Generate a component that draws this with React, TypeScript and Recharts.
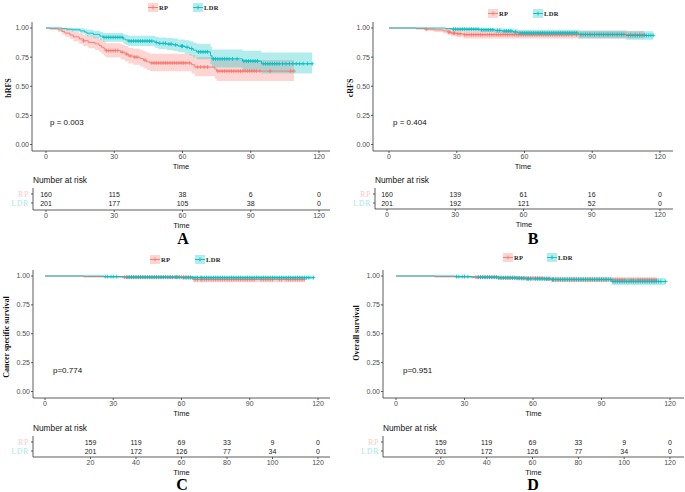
import React from 'react'
import { ComposedChart, Line, Area, Scatter, XAxis, YAxis } from 'recharts'

// [time, survival, lower CI, upper CI]
type Step = [number, number, number, number]

const RP_COLOR = '#F8766D'
const LDR_COLOR = '#00BFC4'
const SANS = '"Liberation Sans", Arial, sans-serif'
const SERIF = '"Liberation Serif", "Times New Roman", serif'

const kmTicks = [0, 30, 60, 90, 120]
const yTicks = [0, 0.25, 0.5, 0.75, 1]

// ---- A: bRFS ----
const aRp: Step[] = [
  [0, 1, 1, 1], [1.8, 0.994, 0.98, 1], [5.4, 0.984, 0.965, 1], [7, 0.97, 0.945, 0.995],
  [8.3, 0.956, 0.925, 0.987], [10.5, 0.94, 0.905, 0.977], [12, 0.924, 0.884, 0.966],
  [14.6, 0.906, 0.862, 0.952], [16.4, 0.89, 0.843, 0.94], [18.6, 0.876, 0.826, 0.929],
  [21.5, 0.864, 0.812, 0.92], [23.3, 0.85, 0.796, 0.908], [24.4, 0.835, 0.779, 0.895],
  [25.5, 0.82, 0.762, 0.882], [26.4, 0.806, 0.746, 0.87], [32.8, 0.792, 0.73, 0.858],
  [34.7, 0.776, 0.712, 0.845], [36.2, 0.76, 0.695, 0.831], [38.4, 0.75, 0.684, 0.822],
  [41.3, 0.738, 0.67, 0.812], [42.8, 0.724, 0.655, 0.8], [44.2, 0.71, 0.64, 0.788],
  [45.7, 0.7, 0.628, 0.78], [64, 0.685, 0.61, 0.768], [65.4, 0.665, 0.585, 0.752],
  [74.2, 0.648, 0.565, 0.74], [75, 0.63, 0.545, 0.725],
]
const aLdr: Step[] = [
  [0, 1, 1, 1], [7, 0.995, 0.985, 1], [9, 0.99, 0.976, 1], [11.3, 0.985, 0.968, 1],
  [15, 0.975, 0.953, 0.997], [17, 0.965, 0.94, 0.99], [18, 0.955, 0.927, 0.984],
  [20.8, 0.945, 0.914, 0.977], [23.7, 0.93, 0.895, 0.966], [25.2, 0.92, 0.883, 0.958],
  [34, 0.905, 0.865, 0.947], [35, 0.897, 0.855, 0.94], [36.2, 0.888, 0.845, 0.933],
  [47.9, 0.876, 0.83, 0.924], [49.3, 0.868, 0.82, 0.918], [53, 0.862, 0.812, 0.914],
  [56, 0.855, 0.803, 0.909], [58, 0.845, 0.791, 0.902], [61, 0.835, 0.779, 0.895],
  [63, 0.823, 0.764, 0.886], [64.7, 0.81, 0.749, 0.876], [66.2, 0.795, 0.731, 0.865],
  [72.3, 0.762, 0.69, 0.84], [73, 0.735, 0.66, 0.815], [86.4, 0.716, 0.635, 0.805],
  [94.7, 0.693, 0.61, 0.79],
]
const aRpCensor = [16.5, 26.5, 27.5, 28.5, 29.5, 30.5, 31.5, 33.5, 35.5, 37, 39, 40, 43.5, 46.5, 47.5, 48.5, 49.5, 50.5, 51.5, 52.5, 53.5, 54.5, 55.5, 56.5, 57.5, 58.5, 59.5, 60.5, 61.5, 63, 66.5, 68, 69.5, 71, 75.5, 76.5, 77.5, 78.5, 79.5, 80.5, 81.5, 82.5, 83.5, 84.5, 85.5, 86.5, 87.5, 88.5, 89.5, 90.5, 91.5, 92.5, 94, 98.5, 107.5, 109]
const aLdrCensor = [25.5, 26.5, 27.5, 28.5, 29.5, 30.5, 31.5, 32.5, 33.5, 36.5, 37.5, 38.5, 39.5, 40.5, 41.5, 42.5, 43.5, 44.5, 45.5, 46.5, 48.5, 50, 51.5, 52.5, 54, 55, 57, 59.5, 60, 62, 64, 67, 68, 69, 70, 71, 73.5, 74.5, 75.5, 76.5, 77.5, 78.5, 79.5, 80.5, 82, 84, 87, 88, 89, 90, 91, 92, 93, 95.5, 96.5, 97.5, 98.5, 99.5, 100.5, 101.5, 102.5, 104, 105.5, 107, 108.5, 110, 111.5, 113, 115, 117]

// ---- B: cRFS ----
const bRp: Step[] = [
  [0, 1, 1, 1], [12, 0.995, 0.985, 1], [16, 0.99, 0.975, 1], [20, 0.984, 0.966, 1],
  [24, 0.975, 0.953, 0.997], [26, 0.965, 0.94, 0.99], [27.5, 0.956, 0.929, 0.984],
  [30, 0.95, 0.92, 0.98], [33, 0.943, 0.91, 0.976],
]
const bLdr: Step[] = [
  [0, 1, 1, 1], [25, 0.995, 0.985, 1], [28, 0.99, 0.976, 1], [40, 0.985, 0.968, 1],
  [47, 0.979, 0.96, 0.998], [50, 0.974, 0.953, 0.995], [55, 0.966, 0.942, 0.99],
  [57, 0.957, 0.93, 0.985], [84, 0.945, 0.91, 0.978], [105, 0.936, 0.9, 0.973],
]
const bRpCensor = [16.5, 26.5, 27, 28.5, 29, 30.5, 31.5, 33.5, 34.5, 35.5, 36.5, 37.5, 38.5, 39.5, 40.5, 41.5, 42.5, 43.5, 44.5, 45.5, 46.5, 47.5, 48.5, 49.5, 50.5, 51.5, 52.5, 53.5, 54.5, 55.5, 56.5, 57.5, 58.5, 59.5, 60.5, 61.5, 62.5, 63.5, 64.5, 65.5, 66.5, 67.5, 68.5, 69.5, 70.5, 71.5, 72.5, 73.5, 74.5, 75.5, 76.5, 77.5, 78.5, 79.5, 81, 83, 85, 87, 89, 91, 93, 95, 97, 99, 101, 103, 105, 107, 109, 111, 113]
const bLdrCensor = [28.5, 29.5, 30.5, 31.5, 32.5, 33.5, 34.5, 35.5, 36.5, 37.5, 38.5, 39.5, 41, 42, 43, 44, 45, 46, 48, 49, 51, 52, 53, 54, 56, 58, 59, 60, 61, 62, 63, 64, 65, 66, 67, 68, 69, 70, 71, 72, 73, 74, 75, 76, 77, 78, 79, 80, 81, 82, 83, 85, 86, 87, 88, 89, 90, 91, 92, 93, 94, 95, 96, 97, 98, 99, 100, 101, 102, 103, 104, 106, 107, 108, 109, 110, 111, 112, 113, 114, 115, 116, 117]

// ---- C: cancer specific survival ----
const cRp: Step[] = [
  [0, 1, 1, 1], [17, 0.995, 0.985, 1], [34, 0.99, 0.977, 1], [65, 0.969, 0.945, 0.993],
]
const cLdr: Step[] = [
  [0, 1, 1, 1], [26, 0.995, 0.985, 1], [35, 0.99, 0.978, 1], [60, 0.986, 0.972, 1],
]

// ---- D: overall survival ----
const dRp: Step[] = [
  [0, 1, 1, 1], [17, 0.995, 0.985, 1], [35, 0.99, 0.977, 1], [45, 0.985, 0.97, 1],
  [55, 0.98, 0.963, 0.997], [65, 0.975, 0.955, 0.995], [68, 0.969, 0.945, 0.993],
  [95, 0.965, 0.938, 0.992],
]
const dLdr: Step[] = [
  [0, 1, 1, 1], [26, 0.995, 0.985, 1], [33, 0.99, 0.978, 1], [45, 0.985, 0.972, 0.998],
  [53, 0.98, 0.965, 0.995], [57, 0.976, 0.96, 0.992], [68, 0.97, 0.952, 0.988],
  [94.5, 0.952, 0.922, 0.982],
]
const cdRpCensor = [35, 36, 37, 38, 39, 40, 41, 42, 43, 44, 45, 46, 47, 48, 49, 50, 51, 52, 53, 54, 55, 56, 57, 58, 59, 60, 61, 62, 63, 64, 66, 67, 68.5, 69, 70, 71, 72, 73, 74, 75, 76, 77, 78, 79, 80, 81, 82, 83, 84, 85, 86, 87, 88, 89, 90, 91, 92, 95, 96, 97, 98, 99, 100, 103, 104, 106, 107, 108, 109, 110, 111, 112, 113, 114]
const cdLdrCensor = [26.5, 27.5, 29, 30, 31.5, 36, 37, 38, 39, 40, 41, 42, 43, 44, 45, 46, 47, 48, 49, 50, 51, 52, 53, 54, 55, 56, 57.5, 58, 59, 61, 62, 63, 64, 65, 66, 67, 68.5, 69, 70, 71, 72, 73, 74, 75, 76, 77, 78, 79, 80, 81, 82, 83, 84, 85, 86, 87, 88, 89, 90, 91, 92, 93, 94, 95, 96, 97, 98, 99, 100, 101, 102, 103, 104, 105, 106, 107, 108, 109, 110, 111, 112, 113, 114, 115, 116, 118]

// ---- number at risk ----
const abRiskTimes = [0, 30, 60, 90, 120]
const cdRiskTimes = [20, 40, 60, 80, 100, 120]
const aRpRisk = [160, 115, 38, 6, 0]
const aLdrRisk = [201, 177, 105, 38, 0]
const bRpRisk = [160, 139, 61, 16, 0]
const bLdrRisk = [201, 192, 121, 52, 0]
const cdRpRisk = [159, 119, 69, 33, 9, 0]
const cdLdrRisk = [201, 172, 126, 77, 34, 0]

// ---- helpers ----
const toLine = (steps: Step[], end: number) =>
  [...steps.map(([t, s]) => ({ t, s })), { t: end, s: steps[steps.length - 1][1] }]
const toBand = (steps: Step[], end: number) => {
  const last = steps[steps.length - 1]
  return [...steps.map(([t, , lo, hi]) => ({ t, ci: [lo, hi] })), { t: end, ci: [last[2], last[3]] }]
}
const survAt = (steps: Step[], t: number) => {
  let s = 1
  for (const st of steps) if (st[0] <= t) s = st[1]
  return s
}

const plusShape = (color: string) => (p: any) =>
  <path d={`M${p.cx - 2},${p.cy}h4M${p.cx},${p.cy - 2}v4`} stroke={color} strokeWidth={0.8} fill="none" />

const numShape = (p: any) => (
  <text x={p.cx} y={p.cy} dy={2.6} textAnchor="middle" fontSize={7} fontFamily={SANS} fill="#222">
    {p.payload.n}
  </text>
)

const RowTick = (p: any) => {
  const isRp = Math.round(p.payload.value) === 2
  return (
    <text x={p.x} y={p.y} dy={2.8} textAnchor="end" fontSize={8} fontFamily={SERIF}
      letterSpacing={0.6} fill={isRp ? '#F7CDC9' : '#ABE7E9'}>
      {isRp ? 'RP' : 'LDR'}
    </text>
  )
}

interface Geo { axisX: number; top: number; bottom: number; right: number; x0: number; x120: number }

const xDomain = (g: Geo) => {
  const k = (g.x120 - g.x0) / 120
  return [-(g.x0 - g.axisX) / k, 120 + (g.right - g.x120) / k]
}

const axisStyle = { stroke: '#333', strokeWidth: 0.8 }
const tickStyle = { fontSize: 7, fill: '#4d4d4d', fontFamily: SANS }
const timeLabel = { value: 'Time', position: 'insideBottom' as const, offset: 0, fontSize: 7.5, fill: '#111', fontFamily: SANS }

function KmPlot({ g, rp, rpEnd, ldr, ldrEnd, rpCensor, ldrCensor }: {
  g: Geo; rp: Step[]; rpEnd: number; ldr: Step[]; ldrEnd: number; rpCensor: number[]; ldrCensor: number[]
}) {
  const yw = 30, mt = 4, mr = 2, xh = 18, mb = 5
  const left = g.axisX - yw
  const top = g.top - mt
  const ky = g.bottom - g.top - 12.5
  return (
    <div style={{ position: 'absolute', left, top }}>
      <ComposedChart width={g.right - left + mr} height={g.bottom - top + xh + mb}
        margin={{ top: mt, right: mr, left: 0, bottom: mb }}>
        <XAxis type="number" dataKey="t" domain={xDomain(g)} ticks={kmTicks} interval={0} allowDataOverflow
          height={xh} tickSize={2} tickMargin={1} tick={tickStyle} axisLine={axisStyle} tickLine={axisStyle}
          label={timeLabel} />
        <YAxis type="number" domain={[-6.5 / ky, 1 + 6 / ky]} ticks={yTicks} interval={0} allowDataOverflow width={yw}
          tickFormatter={(v: number) => v.toFixed(2)} tickSize={2} tickMargin={1} tick={tickStyle}
          axisLine={axisStyle} tickLine={axisStyle} />
        <Area data={toBand(rp, rpEnd)} dataKey="ci" type="stepAfter" fill={RP_COLOR} fillOpacity={0.3}
          stroke="none" isAnimationActive={false} />
        <Area data={toBand(ldr, ldrEnd)} dataKey="ci" type="stepAfter" fill={LDR_COLOR} fillOpacity={0.3}
          stroke="none" isAnimationActive={false} />
        <Line data={toLine(rp, rpEnd)} dataKey="s" type="stepAfter" stroke={RP_COLOR} strokeWidth={0.9}
          dot={false} isAnimationActive={false} />
        <Line data={toLine(ldr, ldrEnd)} dataKey="s" type="stepAfter" stroke={LDR_COLOR} strokeWidth={0.9}
          dot={false} isAnimationActive={false} />
        <Scatter data={rpCensor.map((t) => ({ t, s: survAt(rp, t) }))} dataKey="s"
          shape={plusShape(RP_COLOR)} isAnimationActive={false} />
        <Scatter data={ldrCensor.map((t) => ({ t, s: survAt(ldr, t) }))} dataKey="s"
          shape={plusShape(LDR_COLOR)} isAnimationActive={false} />
      </ComposedChart>
    </div>
  )
}

function RiskTable({ g, times, rpRisk, ldrRisk }: {
  g: Geo; times: number[]; rpRisk: number[]; ldrRisk: number[]
}) {
  const yw = 30, mt = 2, mr = 2, xh = 18, mb = 5
  const left = g.axisX - yw
  const top = g.top - mt
  const hi = 2 + 6 / 9
  const lo = hi - (g.bottom - g.top) / 9
  return (
    <div style={{ position: 'absolute', left, top }}>
      <ComposedChart width={g.right - left + mr} height={g.bottom - top + xh + mb}
        margin={{ top: mt, right: mr, left: 0, bottom: mb }}>
        <XAxis type="number" dataKey="t" domain={xDomain(g)} ticks={times} interval={0} allowDataOverflow
          height={xh} tickSize={2} tickMargin={1} tick={tickStyle} axisLine={axisStyle} tickLine={axisStyle}
          label={timeLabel} />
        <YAxis type="number" domain={[lo, hi]} ticks={[1, 2]} interval={0} allowDataOverflow width={yw}
          tickSize={2} tickMargin={2} tick={<RowTick />} axisLine={axisStyle} tickLine={axisStyle} />
        <Scatter data={times.map((t, i) => ({ t, row: 2, n: rpRisk[i] }))} dataKey="row"
          shape={numShape} isAnimationActive={false} />
        <Scatter data={times.map((t, i) => ({ t, row: 1, n: ldrRisk[i] }))} dataKey="row"
          shape={numShape} isAnimationActive={false} />
      </ComposedChart>
    </div>
  )
}

const LegendKey = ({ color }: { color: string }) => (
  <svg width={10} height={9} style={{ display: 'block' }}>
    <rect x={0} y={0} width={10} height={9} fill={color} fillOpacity={0.3} />
    <path d="M0,4.5h10M5,2.5v4" stroke={color} strokeWidth={0.9} />
  </svg>
)

function Legend({ x1, x2, y }: { x1: number; x2: number; y: number }) {
  const item = (x: number, color: string, label: string) => (
    <div style={{ position: 'absolute', left: x, top: y - 4.5, display: 'flex', alignItems: 'center', gap: 1 }}>
      <LegendKey color={color} />
      <span style={{ fontFamily: SERIF, fontWeight: 700, fontSize: 6.5, letterSpacing: 0.3, color: '#222', lineHeight: '9px' }}>
        {label}
      </span>
    </div>
  )
  return (
    <>
      {item(x1, RP_COLOR, 'RP')}
      {item(x2, LDR_COLOR, 'LDR')}
    </>
  )
}

interface PanelProps {
  letter: string; yLabel: string; pText: string
  rp: Step[]; rpEnd: number; ldr: Step[]; ldrEnd: number; rpCensor: number[]; ldrCensor: number[]
  times: number[]; rpRisk: number[]; ldrRisk: number[]
  plot: Geo; table: Geo
  legend: [number, number, number]; yLab: [number, number]; p: [number, number]; nar: [number, number]; let: [number, number]
}

function Panel(pp: PanelProps) {
  return (
    <>
      <KmPlot g={pp.plot} rp={pp.rp} rpEnd={pp.rpEnd} ldr={pp.ldr} ldrEnd={pp.ldrEnd}
        rpCensor={pp.rpCensor} ldrCensor={pp.ldrCensor} />
      <Legend x1={pp.legend[0]} x2={pp.legend[1]} y={pp.legend[2]} />
      <div style={{ position: 'absolute', left: pp.yLab[0], top: pp.yLab[1], transform: 'translate(-50%,-50%) rotate(-90deg)',
        whiteSpace: 'nowrap', fontFamily: SERIF, fontWeight: 700, fontSize: 8, color: '#111' }}>{pp.yLabel}</div>
      <div style={{ position: 'absolute', left: pp.p[0], top: pp.p[1], transform: 'translateY(-50%)',
        whiteSpace: 'nowrap', fontFamily: SANS, fontSize: 8, color: '#111' }}>{pp.pText}</div>
      <div style={{ position: 'absolute', left: pp.nar[0], top: pp.nar[1], transform: 'translateY(-50%)',
        whiteSpace: 'nowrap', fontFamily: SANS, fontSize: 8.3, color: '#111' }}>Number at risk</div>
      <RiskTable g={pp.table} times={pp.times} rpRisk={pp.rpRisk} ldrRisk={pp.ldrRisk} />
      <div style={{ position: 'absolute', left: pp.let[0], top: pp.let[1], transform: 'translate(-50%,-50%)',
        fontFamily: SERIF, fontWeight: 700, fontSize: 16, color: '#000', lineHeight: 1 }}>{pp.letter}</div>
    </>
  )
}

export default function App() {
  return (
    <div style={{ position: 'absolute', left: 0, top: 0, width: 685, height: 492, background: '#fff', overflow: 'hidden' }}>
      <Panel letter="A" yLabel="bRFS" pText="p = 0.003"
        rp={aRp} rpEnd={109} ldr={aLdr} ldrEnd={117} rpCensor={aRpCensor} ldrCensor={aLdrCensor}
        times={abRiskTimes} rpRisk={aRpRisk} ldrRisk={aLdrRisk}
        plot={{ axisX: 32, top: 22, bottom: 151, right: 330, x0: 46, x120: 319 }}
        table={{ axisX: 33, top: 188, bottom: 210, right: 330, x0: 46, x120: 319 }}
        legend={[148, 193, 7]} yLab={[8, 88]} p={[50, 122]} nar={[33, 180]} let={[183, 239]} />
      <Panel letter="B" yLabel="cRFS" pText="p = 0.404"
        rp={bRp} rpEnd={113} ldr={bLdr} ldrEnd={117} rpCensor={bRpCensor} ldrCensor={bLdrCensor}
        times={abRiskTimes} rpRisk={bRpRisk} ldrRisk={bLdrRisk}
        plot={{ axisX: 373, top: 22, bottom: 151, right: 673, x0: 389, x120: 660 }}
        table={{ axisX: 375, top: 188, bottom: 209, right: 673, x0: 387, x120: 660 }}
        legend={[488, 533, 13]} yLab={[350, 88]} p={[393, 122]} nar={[375, 180]} let={[533, 239]} />
      <Panel letter="C" yLabel="Cancer specific survival" pText="p=0.774"
        rp={cRp} rpEnd={114} ldr={cLdr} ldrEnd={118} rpCensor={cdRpCensor} ldrCensor={cdLdrCensor}
        times={cdRiskTimes} rpRisk={cdRpRisk} ldrRisk={cdLdrRisk}
        plot={{ axisX: 33, top: 270, bottom: 398, right: 330, x0: 45, x120: 318 }}
        table={{ axisX: 33, top: 436, bottom: 457, right: 330, x0: 45, x120: 318 }}
        legend={[150, 195, 259]} yLab={[6, 337]} p={[53, 370]} nar={[33, 428]} let={[182, 485]} />
      <Panel letter="D" yLabel="Overall survival" pText="p=0.951"
        rp={dRp} rpEnd={114} ldr={dLdr} ldrEnd={118} rpCensor={cdRpCensor} ldrCensor={cdLdrCensor}
        times={cdRiskTimes} rpRisk={cdRpRisk} ldrRisk={cdLdrRisk}
        plot={{ axisX: 383, top: 270, bottom: 398, right: 684, x0: 396, x120: 670 }}
        table={{ axisX: 383, top: 436, bottom: 457, right: 684, x0: 395, x120: 670 }}
        legend={[503, 547, 257]} yLab={[356, 333]} p={[403, 370]} nar={[383, 428]} let={[533, 485]} />
    </div>
  )
}
